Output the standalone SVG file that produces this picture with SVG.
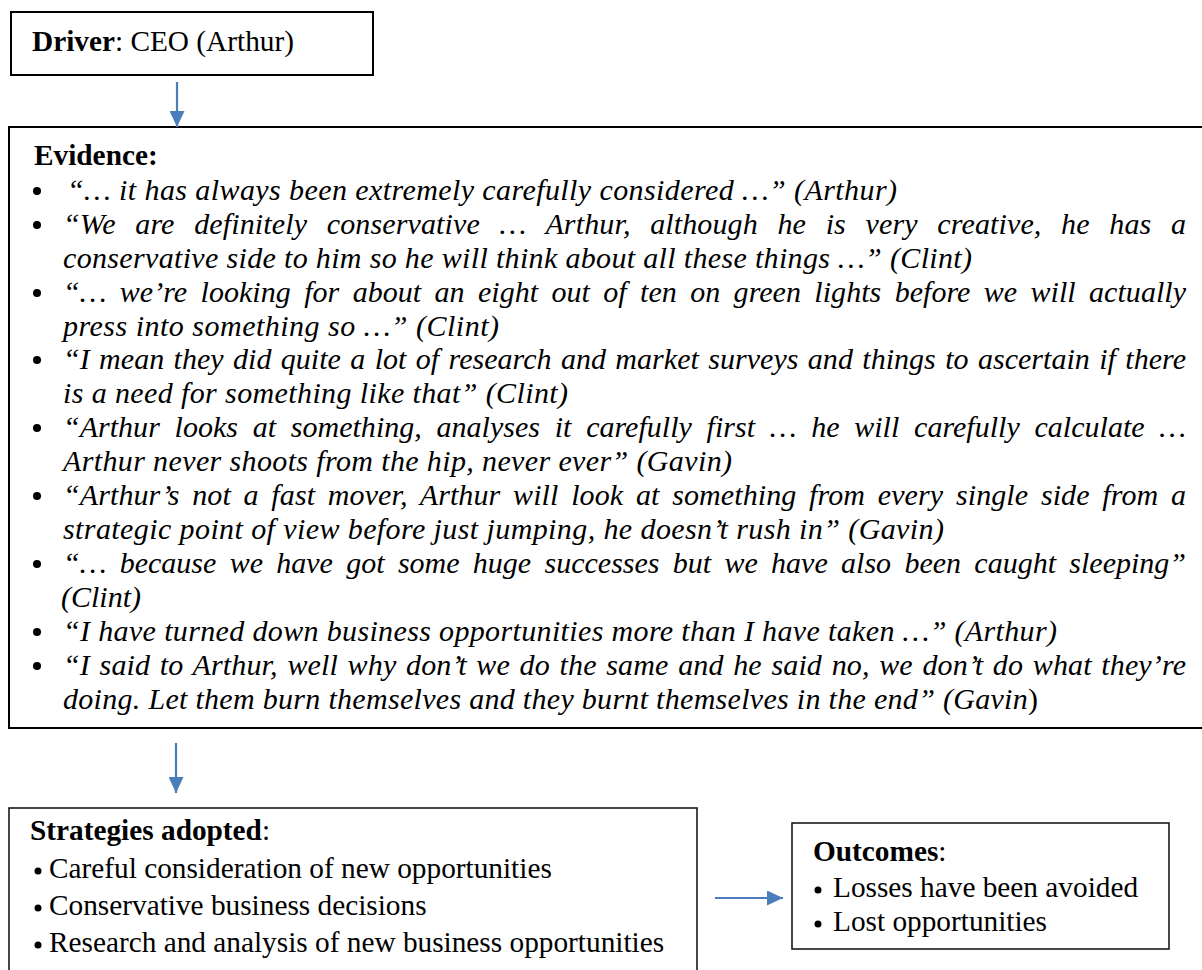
<svg xmlns="http://www.w3.org/2000/svg" width="1202" height="970" viewBox="0 0 1202 970">
<style>
.box{fill:#fff;stroke:#000;stroke-width:2}
.box2{fill:#fff;stroke:#1a1a1a;stroke-width:1.6}
.t{font-family:"Liberation Serif","Times New Roman",serif;font-size:29.3px;fill:#000}
.b{font-weight:bold}
.q{font-family:"Liberation Serif","Times New Roman",serif;font-size:30px;font-style:italic;fill:#000}
.dot{fill:#000}
.conn{stroke:#4a7ebb;stroke-width:2.2;fill:none;marker-end:url(#ah)}
</style>
<defs>
<marker id="ah" markerWidth="16" markerHeight="15" refX="16" refY="7.5" orient="auto" markerUnits="userSpaceOnUse">
<path d="M0,0 L16,7.5 L0,15 z" fill="#4a7ebb"/>
</marker>
</defs>

<g id="driver">
<rect class="box" x="11" y="12" width="362" height="63"/>
<text class="t" x="32" y="51"><tspan class="b">Driver</tspan>: CEO (Arthur)</text>
</g>

<g id="evidence">
<rect class="box" x="9" y="127" width="1200" height="601"/>
<text class="t b" x="34" y="165">Evidence:</text>
<g class="dot">
<circle cx="37" cy="191" r="4"/>
<circle cx="37" cy="225" r="4"/>
<circle cx="37" cy="293" r="4"/>
<circle cx="37" cy="360" r="4"/>
<circle cx="37" cy="428" r="4"/>
<circle cx="37" cy="496" r="4"/>
<circle cx="37" cy="564" r="4"/>
<circle cx="37" cy="632" r="4"/>
<circle cx="37" cy="666" r="4"/>
</g>
<text class="q" x="67" y="200" textLength="830" lengthAdjust="spacing">“… it has always been extremely carefully considered …” (Arthur)</text>
<text class="q" x="63" y="234" textLength="1123" lengthAdjust="spacing" word-spacing="12">“We are definitely conservative … Arthur, although he is very creative, he has a</text>
<text class="q" x="63" y="268" textLength="909" lengthAdjust="spacing">conservative side to him so he will think about all these things …” (Clint)</text>
<text class="q" x="63" y="302" textLength="1123" lengthAdjust="spacing" word-spacing="5.8">“… we’re looking for about an eight out of ten on green lights before we will actually</text>
<text class="q" x="63" y="336" textLength="436" lengthAdjust="spacing">press into something so …” (Clint)</text>
<text class="q" x="63" y="369" textLength="1123" lengthAdjust="spacing" word-spacing="1.8">“I mean they did quite a lot of research and market surveys and things to ascertain if there</text>
<text class="q" x="63" y="403" textLength="505" lengthAdjust="spacing">is a need for something like that” (Clint)</text>
<text class="q" x="63" y="437" textLength="1123" lengthAdjust="spacing" word-spacing="7.2">“Arthur looks at something, analyses it carefully first … he will carefully calculate …</text>
<text class="q" x="63" y="471" textLength="669" lengthAdjust="spacing">Arthur never shoots from the hip, never ever” (Gavin)</text>
<text class="q" x="63" y="505" textLength="1123" lengthAdjust="spacing" word-spacing="5.1">“Arthur’s not a fast mover, Arthur will look at something from every single side from a</text>
<text class="q" x="63" y="539" textLength="881" lengthAdjust="spacing">strategic point of view before just jumping, he doesn’t rush in” (Gavin)</text>
<text class="q" x="63" y="573" textLength="1123" lengthAdjust="spacing" word-spacing="5.8">“… because we have got some huge successes but we have also been caught sleeping”</text>
<text class="q" x="61" y="607">(Clint)</text>
<text class="q" x="63" y="641" textLength="994" lengthAdjust="spacing">“I have turned down business opportunities more than I have taken …” (Arthur)</text>
<text class="q" x="63" y="675" textLength="1123" lengthAdjust="spacing" word-spacing="2">“I said to Arthur, well why don’t we do the same and he said no, we don’t do what they’re</text>
<text class="q" x="63" y="709" textLength="975" lengthAdjust="spacing">doing. Let them burn themselves and they burnt themselves in the end” (Gavin<tspan font-style="normal">)</tspan></text>
</g>

<g id="strategies">
<rect class="box2" x="9" y="808" width="688" height="200"/>
<text class="t" x="30" y="840"><tspan class="b">Strategies adopted</tspan>:</text>
<g class="dot">
<circle cx="38" cy="871" r="3.5"/>
<circle cx="38" cy="908" r="3.5"/>
<circle cx="38" cy="945" r="3.5"/>
</g>
<text class="t" x="49" y="878">Careful consideration of new opportunities</text>
<text class="t" x="49" y="915">Conservative business decisions</text>
<text class="t" x="49" y="952">Research and analysis of new business opportunities</text>
</g>

<g id="outcomes">
<rect class="box2" x="792" y="823" width="377" height="126"/>
<text class="t" x="813" y="861"><tspan class="b">Outcomes</tspan>:</text>
<g class="dot">
<circle cx="818" cy="890" r="3.5"/>
<circle cx="818" cy="924" r="3.5"/>
</g>
<text class="t" x="833" y="897">Losses have been avoided</text>
<text class="t" x="833" y="931">Lost opportunities</text>
</g>

<g id="connectors">
<line class="conn" x1="177" y1="82" x2="177" y2="127"/>
<line class="conn" x1="176" y1="743" x2="176" y2="793"/>
<line class="conn" x1="715" y1="898" x2="783" y2="898"/>
</g>
</svg>
